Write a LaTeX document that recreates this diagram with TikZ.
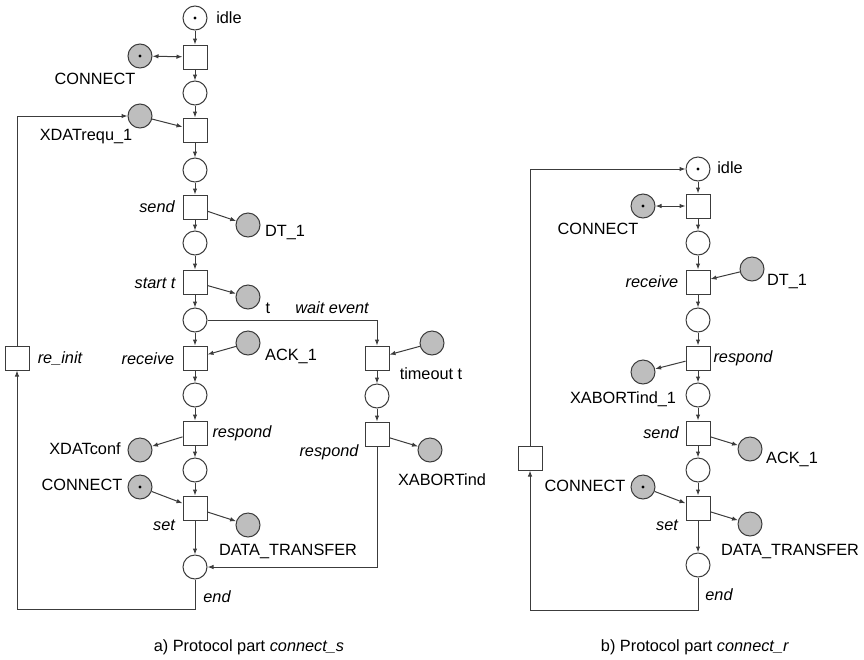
\documentclass[tikz,border=0pt]{standalone}
\usepackage{fontspec}
\setmainfont{Liberation Sans}
\usetikzlibrary{arrows.meta}
\definecolor{linec}{HTML}{3C3C3C}
\definecolor{tokfill}{HTML}{BEBEBE}
\begin{document}
\begin{tikzpicture}[x=1pt,y=-1pt,
  font=\fontsize{16.3}{19}\selectfont,
  every node/.style={inner sep=0pt},
  place/.style={circle,draw=linec,fill=white,minimum size=24pt,line width=1pt},
  gplace/.style={place,fill=tokfill},
  marked/.style={path picture={\fill[black] (path picture bounding box.center) circle (1.7pt);}},
  trans/.style={rectangle,draw=linec,fill=white,minimum size=24pt,line width=1pt},
  lbl/.style={text=black},
  ilbl/.style={text=black,font=\fontsize{16.3}{19}\selectfont\itshape},
  arc/.style={draw=linec,line width=1pt,-{Latex[length=6pt,width=4.5pt]}},
  biarc/.style={arc,{Latex[length=6pt,width=4.5pt]}-{Latex[length=6pt,width=4.5pt]}},
  plain/.style={draw=linec,line width=1pt}]
\useasboundingbox (0,0) rectangle (864,659);

% ---------------- a) connect_s ----------------
\node[place,marked] (l-idle) at (195,18) {};
\node[trans] (l-t1) at (195,57) {};
\node[gplace,marked] (l-con1) at (140,56) {};
\node[place] (l-p2) at (195,93) {};
\node[trans] (l-t2) at (195,130) {};
\node[gplace] (l-xreq) at (140,116) {};
\node[place] (l-p3) at (195,170) {};
\node[trans] (l-send) at (195,207) {};
\node[gplace] (l-dt) at (248,225) {};
\node[place] (l-p4) at (195,243) {};
\node[trans] (l-start) at (195,282) {};
\node[gplace] (l-t) at (248,297) {};
\node[place] (l-p5) at (195,320) {};
\node[trans] (l-recv) at (195,358) {};
\node[gplace] (l-ack) at (248,343) {};
\node[trans] (l-tto) at (377,358) {};
\node[gplace] (l-tmo) at (432,343) {};
\node[place] (l-p6) at (195,395) {};
\node[place] (l-p7) at (377,396) {};
\node[trans] (l-resp) at (195,433) {};
\node[trans] (l-resp2) at (377,434) {};
\node[gplace] (l-xconf) at (140,450) {};
\node[gplace] (l-xab) at (430,450) {};
\node[place] (l-p8) at (195,470) {};
\node[trans] (l-set) at (195,508) {};
\node[gplace,marked] (l-con2) at (140,487) {};
\node[gplace] (l-dtr) at (248,525) {};
\node[place] (l-end) at (195,567) {};
\node[trans] (l-re) at (17,358) {};
\coordinate (l-bl) at (17,609);

\node[lbl] at (229,18) {idle};
\node[lbl] at (95,79) {CONNECT};
\node[lbl] at (86,137) {XDATrequ\_1};
\node[ilbl] at (157,207) {send};
\node[lbl] at (285,233) {DT\_1};
\node[ilbl] at (155,283) {start t};
\node[lbl] at (268,308) {t};
\node[ilbl] at (332,308) {wait event};
\node[ilbl] at (148,359) {receive};
\node[lbl] at (291,356) {ACK\_1};
\node[lbl] at (431,374) {timeout t};
\node[ilbl] at (60,359) {re\_init};
\node[ilbl] at (242,433) {respond};
\node[lbl] at (85,449) {XDATconf};
\node[ilbl] at (329,452) {respond};
\node[lbl] at (442,480) {XABORTind};
\node[lbl] at (82,485) {CONNECT};
\node[ilbl] at (164,525) {set};
\node[lbl] at (288,551) {DATA\_TRANSFER};
\node[ilbl] at (217,597) {end};
\node[lbl] at (249,647) {a) Protocol part \textit{connect\_s}};

\draw[arc] (l-idle) -- (l-t1);
\draw[biarc] (l-con1) -- (l-t1);
\draw[arc] (l-t1) -- (l-p2);
\draw[arc] (l-p2) -- (l-t2);
\draw[arc] (l-xreq) -- (l-t2);
\draw[arc] (l-t2) -- (l-p3);
\draw[arc] (l-p3) -- (l-send);
\draw[arc] (l-send) -- (l-dt);
\draw[arc] (l-send) -- (l-p4);
\draw[arc] (l-p4) -- (l-start);
\draw[arc] (l-start) -- (l-t);
\draw[arc] (l-start) -- (l-p5);
\draw[arc] (l-p5) -- (l-recv);
\draw[arc] (l-p5) -| (l-tto);
\draw[arc] (l-ack) -- (l-recv);
\draw[arc] (l-tmo) -- (l-tto);
\draw[arc] (l-recv) -- (l-p6);
\draw[arc] (l-tto) -- (l-p7);
\draw[arc] (l-p6) -- (l-resp);
\draw[arc] (l-p7) -- (l-resp2);
\draw[arc] (l-resp) -- (l-xconf);
\draw[arc] (l-resp2) -- (l-xab);
\draw[arc] (l-resp) -- (l-p8);
\draw[arc] (l-p8) -- (l-set);
\draw[arc] (l-con2) -- (l-set);
\draw[arc] (l-set) -- (l-dtr);
\draw[arc] (l-set) -- (l-end);
\draw[arc] (l-resp2) |- (l-end);
\draw[arc] (l-end) |- (l-bl) -- (l-re);
\draw[arc] (l-re) |- (l-xreq);

% ---------------- b) connect_r ----------------
\node[place,marked] (r-idle) at (698,169) {};
\node[trans] (r-t1) at (698,206) {};
\node[gplace,marked] (r-con1) at (643,206) {};
\node[place] (r-p2) at (698,243) {};
\node[trans] (r-recv) at (698,282) {};
\node[gplace] (r-dt) at (752,269) {};
\node[place] (r-p3) at (698,320) {};
\node[trans] (r-resp) at (698,358) {};
\node[gplace] (r-xab) at (643,372) {};
\node[place] (r-p4) at (698,395) {};
\node[trans] (r-send) at (698,433) {};
\node[gplace] (r-ack) at (750,449) {};
\node[place] (r-p5) at (698,470) {};
\node[trans] (r-set) at (698,508) {};
\node[gplace,marked] (r-con2) at (643,487) {};
\node[gplace] (r-dtr) at (750,524) {};
\node[place] (r-end) at (698,565) {};
\node[trans] (r-re) at (530,458) {};
\coordinate (r-bl) at (530,610);

\node[lbl] at (730,168) {idle};
\node[lbl] at (598,229) {CONNECT};
\node[ilbl] at (652,282) {receive};
\node[lbl] at (787,282) {DT\_1};
\node[ilbl] at (743,358) {respond};
\node[lbl] at (623,399) {XABORTind\_1};
\node[ilbl] at (661,433) {send};
\node[lbl] at (792,459) {ACK\_1};
\node[lbl] at (585,486) {CONNECT};
\node[ilbl] at (667,525) {set};
\node[lbl] at (790,551) {DATA\_TRANSFER};
\node[ilbl] at (719,595) {end};
\node[lbl] at (695,647) {b) Protocol part \textit{connect\_r}};

\draw[arc] (r-idle) -- (r-t1);
\draw[biarc] (r-con1) -- (r-t1);
\draw[arc] (r-t1) -- (r-p2);
\draw[arc] (r-p2) -- (r-recv);
\draw[arc] (r-dt) -- (r-recv);
\draw[arc] (r-recv) -- (r-p3);
\draw[arc] (r-p3) -- (r-resp);
\draw[arc] (r-resp) -- (r-xab);
\draw[arc] (r-resp) -- (r-p4);
\draw[arc] (r-p4) -- (r-send);
\draw[arc] (r-send) -- (r-ack);
\draw[arc] (r-send) -- (r-p5);
\draw[arc] (r-p5) -- (r-set);
\draw[arc] (r-con2) -- (r-set);
\draw[arc] (r-set) -- (r-dtr);
\draw[arc] (r-set) -- (r-end);
\draw[arc] (r-end) |- (r-bl) -- (r-re);
\draw[arc] (r-re) |- (r-idle);
\end{tikzpicture}
\end{document}
